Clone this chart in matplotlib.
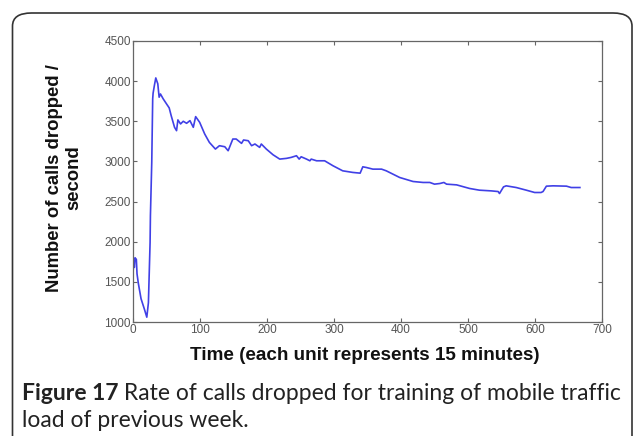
import matplotlib
matplotlib.use("Agg")
import matplotlib.pyplot as plt
from matplotlib.patches import FancyBboxPatch

time_units = [0, 1, 2, 3, 5, 6, 8, 12, 17, 20.6, 23, 25.5, 26, 28, 29.4, 30, 32, 34, 37, 39,
              41, 45, 50, 54, 57, 62, 65, 67, 71, 75, 80, 85, 90, 93.5, 99.5, 107, 114, 123,
              129, 137, 142, 149, 154, 162, 165, 172, 177, 182, 189, 191.5, 199, 209, 219,
              229, 236, 244, 248, 251, 259, 264, 266, 274, 286, 298.5, 313, 328, 339, 343,
              348, 358, 371, 378, 398, 418, 433, 443, 450, 458, 464, 468, 483, 502.5, 517,
              535, 545, 547, 553, 557, 572, 587, 599.5, 609, 612, 617, 627, 647, 654, 667]
calls_dropped = [1600, 1750, 1680, 1800, 1780, 1600, 1480, 1290, 1160, 1060, 1240, 1990, 2325,
                 2990, 3780, 3850, 3950, 4040, 3967, 3800, 3840, 3780, 3717, 3667, 3570, 3425,
                 3383, 3517, 3467, 3500, 3475, 3508, 3425, 3558, 3487, 3342, 3237, 3154, 3196,
                 3183, 3133, 3279, 3279, 3225, 3267, 3258, 3196, 3217, 3175, 3217, 3154, 3083,
                 3029, 3038, 3050, 3071, 3029, 3058, 3029, 3008, 3029, 3008, 3008, 2946, 2883,
                 2863, 2854, 2933, 2925, 2904, 2904, 2883, 2800, 2750, 2738, 2738, 2717, 2725,
                 2738, 2717, 2708, 2663, 2642, 2633, 2625, 2600, 2683, 2696, 2675, 2642, 2613,
                 2613, 2625, 2692, 2696, 2692, 2675, 2675]

x_ticks = [0, 100, 200, 300, 400, 500, 600, 700]
x_tick_labels = ["0", "100", "200", "300", "400", "500", "600", "700"]
y_ticks = [1000, 1500, 2000, 2500, 3000, 3500, 4000, 4500]
y_tick_labels = ["1000", "1500", "2000", "2500", "3000", "3500", "4000", "4500"]

x_label = "Time (each unit represents 15 minutes)"
y_label = "Number of calls dropped /\nsecond"
caption_bold = "Figure 17"
caption_line1 = " Rate of calls dropped for training of mobile traffic"
caption_line2 = "load of previous week."

W, H = 634, 436
fig = plt.figure(figsize=(W / 100, H / 100), dpi=100)
fig.patch.set_facecolor("white")

# rounded frame
frame = FancyBboxPatch((12.5 / W, -40 / H), (632 - 12.5) / W, (H - 13 + 40) / H,
                       boxstyle="round,pad=0,rounding_size=0.03",
                       transform=fig.transFigure, facecolor="none",
                       edgecolor="#333333", linewidth=1.2, clip_on=False)
fig.patches.append(frame)

ax = fig.add_axes([133 / W, (H - 322) / H, (602 - 133) / W, (322 - 41) / H])
ax.plot(time_units, calls_dropped, color="#4040e6", linewidth=1.2)
ax.set_xlim(0, 700)
ax.set_ylim(1000, 4500)
ax.set_xticks(x_ticks)
ax.set_xticklabels(x_tick_labels)
ax.set_yticks(y_ticks)
ax.set_yticklabels(y_tick_labels)
ax.tick_params(direction="in", top=True, right=True, length=3, width=0.8,
               colors="#666666", labelsize=8.5, pad=1.5)
for lab in ax.get_xticklabels() + ax.get_yticklabels():
    lab.set_family("Liberation Sans")
    lab.set_color("#555555")
for s in ax.spines.values():
    s.set_color("#666666")
    s.set_linewidth(0.9)

fig.text(365 / W, 1 - 355 / H, x_label, ha="center", va="center",
         fontsize=13.6, fontweight="bold", family="Liberation Sans", color="#111111")
fig.text(64 / W, 1 - 178 / H, y_label, ha="center", va="center", rotation=90,
         fontsize=13.3, fontweight="bold", family="Liberation Sans", color="#111111",
         linespacing=1.15, multialignment="center")

cap_font = "Lato"
cap_size = 12
renderer = fig.canvas.get_renderer()
t = fig.text(22 / W, 1 - 393 / H, caption_bold, ha="left", va="center",
             fontsize=cap_size, fontweight="bold", family=cap_font, color="#222222")
t1 = fig.text(0, 1 - 393 / H, caption_line1, ha="left", va="center",
              fontsize=cap_size, family=cap_font, color="#222222")
fig.canvas.draw()
width_now = t.get_window_extent(renderer).width + t1.get_window_extent(renderer).width
cap_size = cap_size * 598.0 / width_now
t.set_fontsize(cap_size)
t1.set_fontsize(cap_size)
fig.canvas.draw()
bb = t.get_window_extent(renderer)
t1.set_x(bb.x1 / W)
fig.text(22 / W, 1 - 420 / H, caption_line2, ha="left", va="center",
         fontsize=cap_size, family=cap_font, color="#222222")

fig.savefig("out.png", dpi=100)
